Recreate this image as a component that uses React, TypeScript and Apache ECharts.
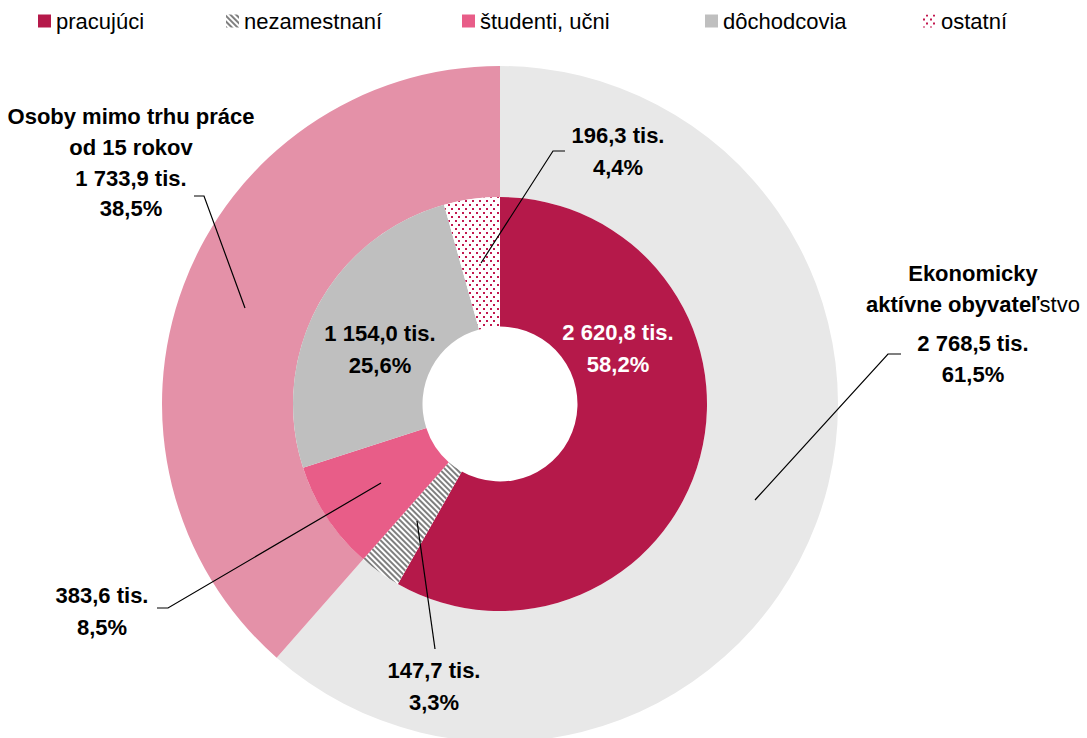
import { useEffect, useRef } from 'react';
import * as echarts from 'echarts';

const innerNames = ['pracujúci', 'nezamestnaní', 'študenti, učni', 'dôchodcovia', 'ostatní'];
const innerValues = [2620.8, 147.7, 383.6, 1154.0, 196.3];
const outerNames = ['Ekonomicky aktívne obyvateľstvo', 'Osoby mimo trhu práce od 15 rokov'];
const outerValues = [2768.5, 1733.9];

const innerColors = ['#b5194a', '#ffffff', '#e85d88', '#bfbfbf', '#ffffff'];
const outerColors = ['#e8e8e8', '#e491a8'];

const FONT = "'Liberation Sans', Arial, sans-serif";

const legendLeft = [38, 226, 462, 705, 923];

// label anchor positions (px) and leader lines
const innerLabelPos: any[] = [
  { x: 618, y: 348 },
  { x: 434, y: 686, line: [[417, 521], [435, 649], [435, 649]] },
  { x: 102, y: 611, line: [[381, 483], [168, 608], [157, 608]] },
  { x: 380, y: 349 },
  { x: 618, y: 151, line: [[481, 263], [553, 151], [565, 151]] },
];
const outerLabelPos: any[] = [
  { x: 973, y: 258, line: [[755, 500], [888, 354], [901, 354]] },
  { x: 131, y: 101, line: [[245, 308], [204, 196], [194, 196]] },
];

const fmt = (v: number) => {
  const [i, d] = v.toFixed(1).split('.');
  return i.replace(/\B(?=(\d{3})+(?!\d))/g, ' ') + ',' + d;
};

export default function App() {
  const ref = useRef<HTMLDivElement>(null);
  useEffect(() => {
    if (!ref.current) return;
    const chart = echarts.init(ref.current, null, { renderer: 'svg' });
    const total = innerValues.reduce((a, b) => a + b, 0);
    const pct = (v: number) => (v / total * 100).toFixed(1).replace('.', ',') + '%';

    const decals: any[] = [
      null,
      {
        symbol: 'rect',
        symbolSize: 1,
        color: '#7f7f7f',
        backgroundColor: '#ffffff',
        dashArrayX: [1, 0],
        dashArrayY: [2, 2],
        rotation: Math.PI / 4,
      },
      null,
      null,
      {
        symbol: 'rect',
        symbolSize: 1,
        color: '#c2184f',
        backgroundColor: '#ffffff',
        dashArrayX: [[1.5, 4.5], [0, 3, 1.5, 1.5]],
        dashArrayY: [1.5, 1.8],
        rotation: 0,
      },
    ];

    const innerData = innerNames.map((n, i) => {
      const item: any = {
        name: n,
        value: innerValues[i],
        itemStyle: { color: innerColors[i] },
      };
      if (decals[i]) item.itemStyle.decal = decals[i];
      return item;
    });

    const outerData = outerNames.map((n, i) => ({
      name: n,
      value: outerValues[i],
      itemStyle: { color: outerColors[i] },
    }));

    // transparent overlay data used only to carry labels and leader lines above all sectors
    const innerLabelData = innerNames.map((n, i) => ({
      name: n,
      value: innerValues[i],
      label: { color: i === 0 ? '#ffffff' : '#000000' },
      labelLine: { show: !!innerLabelPos[i].line },
    }));
    const outerLabelData = outerNames.map((n, i) => ({
      name: n,
      value: outerValues[i],
    }));

    const legends = innerNames.map((n, i) => ({
      data: [n],
      left: legendLeft[i],
      top: 10,
      icon: 'rect',
      itemWidth: 13,
      itemHeight: 13,
      itemGap: 0,
      padding: 0,
      selectedMode: false,
      textStyle: { fontSize: 22, color: '#000', fontFamily: FONT },
    }));

    const common = {
      type: 'pie',
      silent: true,
      center: [500, 404],
      startAngle: 90,
      clockwise: true,
      avoidLabelOverlap: false,
    };

    const rich = {
      h: { fontFamily: FONT, fontSize: 22, fontWeight: 'bold', color: '#000', lineHeight: 31 },
      n: { fontFamily: FONT, fontSize: 22, fontWeight: 'normal', color: '#000', lineHeight: 31 },
      s: { fontSize: 1, lineHeight: 8 },
      v: { fontFamily: FONT, fontSize: 22, fontWeight: 'bold', color: '#000', lineHeight: 31 },
      w: { fontFamily: FONT, fontSize: 22, fontWeight: 'bold', color: '#000', lineHeight: 28 },
    };

    chart.setOption({
      animation: false,
      backgroundColor: '#ffffff',
      legend: legends,
      series: [
        {
          ...common,
          name: 'outer',
          z: 2,
          radius: [207, 338],
          data: outerData,
          label: { show: false },
          labelLine: { show: false },
        },
        {
          ...common,
          name: 'inner',
          z: 2,
          radius: [77.5, 207],
          data: innerData,
          label: { show: false },
          labelLine: { show: false },
        },
        {
          ...common,
          name: 'outerLabels',
          z: 5,
          radius: [207, 338],
          data: outerLabelData,
          itemStyle: { color: 'rgba(0,0,0,0)' },
          label: {
            show: true,
            position: 'outside',
            fontFamily: FONT,
            fontSize: 22,
            fontWeight: 'bold',
            color: '#000',
            formatter: (p: any) => {
              if (p.dataIndex === 0) {
                return `{h|Ekonomicky}\n{h|aktívne obyvateľ}{n|stvo}\n{s| }\n{v|${fmt(p.value)} tis.}\n{v|${pct(p.value)}}`;
              }
              return `{h|Osoby mimo trhu práce}\n{h|od 15 rokov}\n{v|${fmt(p.value)} tis.}\n{w|${pct(p.value)}}`;
            },
            rich,
          },
          labelLine: { show: true, lineStyle: { color: '#000', width: 1.2 } },
          labelLayout: (params: any) => {
            const p = outerLabelPos[params.dataIndex];
            return {
              x: p.x,
              y: p.y,
              align: 'center',
              verticalAlign: 'top',
              labelLinePoints: p.line,
            };
          },
        },
        {
          ...common,
          name: 'innerLabels',
          z: 5,
          radius: [77.5, 207],
          data: innerLabelData,
          itemStyle: { color: 'rgba(0,0,0,0)' },
          label: {
            show: true,
            position: 'outside',
            fontFamily: FONT,
            fontSize: 22,
            fontWeight: 'bold',
            lineHeight: 32,
            formatter: (p: any) => `${fmt(p.value)} tis.\n${pct(p.value)}`,
          },
          labelLine: { show: true, lineStyle: { color: '#000', width: 1.2 } },
          labelLayout: (params: any) => {
            const p = innerLabelPos[params.dataIndex];
            const r: any = { x: p.x, y: p.y, align: 'center', verticalAlign: 'middle' };
            if (p.line) r.labelLinePoints = p.line;
            return r;
          },
        },
      ],
    });
    return () => chart.dispose();
  }, []);
  return (
    <div
      ref={ref}
      style={{ position: 'fixed', left: 0, top: 0, width: 1087, height: 738 }}
    />
  );
}
